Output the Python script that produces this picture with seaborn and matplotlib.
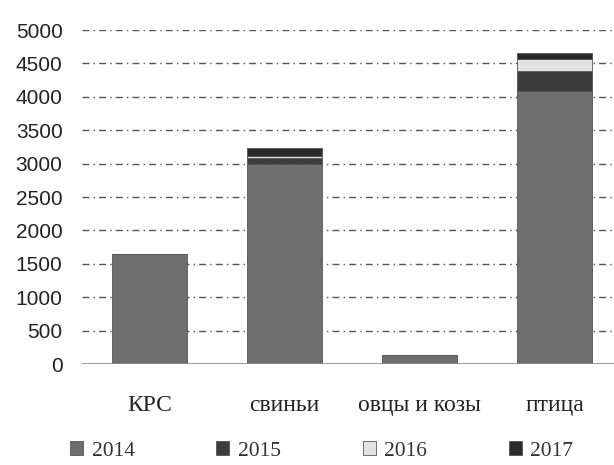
import numpy as np
import pandas as pd
import matplotlib
matplotlib.use("Agg")
import matplotlib.pyplot as plt
import seaborn as sns

# --- datos ---
categorias = ["КРС", "свиньи", "овцы и козы", "птица"]
anios = ["2014", "2015", "2016", "2017"]
v2014 = [1640, 3000, 130, 4080]
v2015 = [0, 90, 0, 300]
v2016 = [0, 30, 0, 180]
v2017 = [0, 120, 0, 90]
colores = ["#6e6e6e", "#3c3c3c", "#e2e2e2", "#2a2a2a"]

valores = {"2014": v2014, "2015": v2015, "2016": v2016, "2017": v2017}

sns.set_theme(style="white")
plt.rcParams["font.family"] = ["Liberation Serif", "DejaVu Serif"]

fig = plt.figure(figsize=(6.14, 4.65), dpi=100)
ax = fig.add_axes([82 / 614, 101 / 465, 540 / 614, 334 / 465])

# barras apiladas por año
base = np.zeros(len(categorias))
for anio, col in zip(anios, colores):
    df = pd.DataFrame({"cat": categorias, "val": valores[anio]})
    sns.barplot(data=df, x="cat", y="val", order=categorias, color=col,
                width=0.56, bottom=base, label=anio, ax=ax,
                edgecolor="#555555", linewidth=0.6, saturation=1, zorder=3)
    base = base + np.array(valores[anio])

# rejilla punto-raya
ax.set_yticks(np.arange(0, 5001, 500))
ax.set_ylim(0, 5000)
ax.set_xlim(-0.5, 3.5)
for yv in np.arange(500, 5001, 500):
    ax.axhline(yv, color="#555555", lw=1.0, ls=(0, (5, 3, 1, 3)), zorder=1)
ax.axhline(0, color="#888888", lw=1.2, zorder=4)

for s in ax.spines.values():
    s.set_visible(False)
ax.tick_params(axis="y", length=0, pad=14, colors="#222222")
ax.tick_params(axis="x", labelsize=17, length=0, pad=22, colors="#222222")
for t in ax.get_yticklabels():
    t.set_fontfamily("Liberation Sans")
    t.set_fontsize(15)
ax.set_xlabel("")
ax.set_ylabel("")

h, l = ax.get_legend_handles_labels()
if ax.get_legend():
    ax.get_legend().remove()
fig.legend(h, l, loc="center left", bbox_to_anchor=(70 / 614, 1 - 451 / 465),
           ncol=4, frameon=False, fontsize=15.5, handlelength=0.6, handleheight=0.6,
           handletextpad=0.4, columnspacing=3.8, borderpad=0, borderaxespad=0,
           labelcolor="#333333")

fig.savefig("out.png", dpi=100)
